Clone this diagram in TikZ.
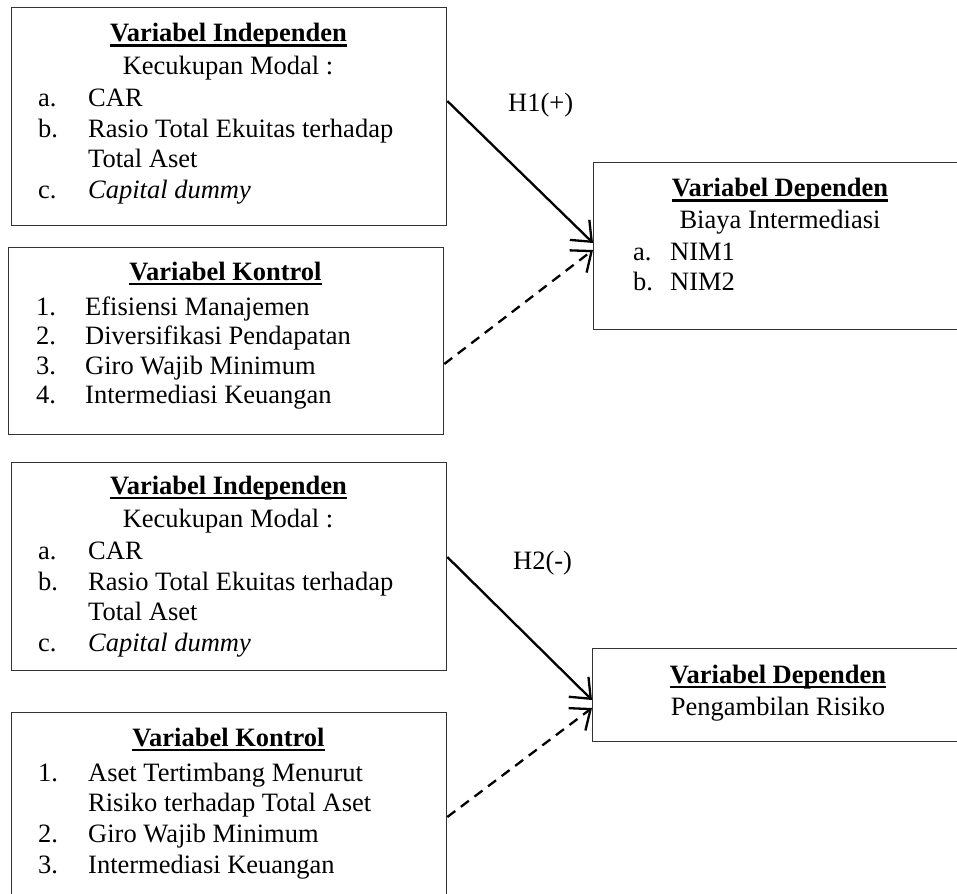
\documentclass[tikz,border=0pt]{standalone}
\usepackage{fontspec}
\setmainfont{Liberation Serif}
\usetikzlibrary{arrows.meta}
\newsavebox\ulbox
\newcommand\myul[1]{\sbox\ulbox{#1}\rlap{\vrule width\wd\ulbox height -2.5pt depth 5pt}\usebox\ulbox}
\tikzset{
  box/.style={draw=black!80, line width=1.3pt, rectangle, anchor=north west, inner sep=0pt},
  txt/.style={inner sep=0pt, font=\fontsize{26.5}{31}\selectfont},
  ttl/.style={txt, anchor=base, font=\fontsize{26.5}{31}\selectfont\bfseries},
  ctr/.style={txt, anchor=base},
  lft/.style={txt, anchor=base west},
  solidarrow/.style={line width=2.3pt, -{Straight Barb[length=17pt,width=28pt,line width=2.3pt]}},
  dasharrow/.style={line width=2.3pt, dash pattern=on 10pt off 7pt, -{Straight Barb[length=17pt,width=28pt,line width=2.3pt]}}
}
\begin{document}
\begin{tikzpicture}[x=1pt,y=-1pt]
\clip (0,0) rectangle (957,893);
\fill[white] (0,0) rectangle (957,893);
% boxes
\node[box, minimum width=435pt, minimum height=218pt] (b1) at (11,7) {};
\node[box, minimum width=435pt, minimum height=187pt] (b2) at (8,247) {};
\node[box, minimum width=374pt, minimum height=167pt] (b3) at (593,162) {};
\node[box, minimum width=435pt, minimum height=208pt] (b4) at (11,462) {};
\node[box, minimum width=435pt, minimum height=208pt] (b5) at (11,712) {};
\node[box, minimum width=373pt, minimum height=93pt] (b6) at (592,648) {};
% box 1
\node[ttl] (t1) at (228.5,42) {\myul{Variabel Independen}};
\node[ctr] (k1) at (228,75) {Kecukupan Modal :};
\node[lft] (a1l) at (38,107) {a.};
\node[lft] (a1) at (88,107) {CAR};
\node[lft] (b1l) at (38,138) {b.};
\node[lft] (b1t) at (88,138) {Rasio Total Ekuitas terhadap};
\node[lft] (b1u) at (88,168) {Total Aset};
\node[lft] (c1l) at (38,199) {c.};
\node[lft] (c1) at (88,199) {\textit{Capital dummy}};
% box 2
\node[ttl] (t2) at (225.5,280) {\myul{Variabel Kontrol}};
\node[lft] (n21) at (36,315) {1.};
\node[lft] (i21) at (85,315) {Efisiensi Manajemen};
\node[lft] (n22) at (36,344) {2.};
\node[lft] (i22) at (85,344) {Diversifikasi Pendapatan};
\node[lft] (n23) at (36,374) {3.};
\node[lft] (i23) at (85,374) {Giro Wajib Minimum};
\node[lft] (n24) at (36,403) {4.};
\node[lft] (i24) at (85,403) {Intermediasi Keuangan};
% box 3
\node[ttl] (t3) at (780,197) {\myul{Variabel Dependen}};
\node[ctr] (k3) at (780,229) {Biaya Intermediasi};
\node[lft] (a3l) at (633,260) {a.};
\node[lft] (a3) at (670,260) {NIM1};
\node[lft] (b3l) at (633,290) {b.};
\node[lft] (b3t) at (670,290) {NIM2};
% box 4
\node[ttl] (t4) at (228.5,494) {\myul{Variabel Independen}};
\node[ctr] (k4) at (228,527) {Kecukupan Modal :};
\node[lft] (a4l) at (38,559) {a.};
\node[lft] (a4) at (88,559) {CAR};
\node[lft] (b4l) at (38,590) {b.};
\node[lft] (b4t) at (88,590) {Rasio Total Ekuitas terhadap};
\node[lft] (b4u) at (88,620) {Total Aset};
\node[lft] (c4l) at (38,651) {c.};
\node[lft] (c4) at (88,651) {\textit{Capital dummy}};
% box 5
\node[ttl] (t5) at (228.5,746) {\myul{Variabel Kontrol}};
\node[lft] (n51) at (38,781) {1.};
\node[lft] (i51) at (88,781) {Aset Tertimbang Menurut};
\node[lft] (i51b) at (88,811) {Risiko terhadap Total Aset};
\node[lft] (n52) at (38,842) {2.};
\node[lft] (i52) at (88,842) {Giro Wajib Minimum};
\node[lft] (n53) at (38,873) {3.};
\node[lft] (i53) at (88,873) {Intermediasi Keuangan};
% box 6
\node[ttl] (t6) at (778,683) {\myul{Variabel Dependen}};
\node[ctr] (k6) at (778,715) {Pengambilan Risiko};
% labels
\node[lft] (h1) at (508,112) {H1(+)};
\node[lft] (h2) at (513,569) {H2(-)};
% arrows
\draw[solidarrow] ([yshift=-94pt]b1.north east) -- ([yshift=-81pt]b3.north west);
\draw[dasharrow] ([yshift=-117pt]b2.north east) -- ([yshift=-88pt]b3.north west);
\draw[solidarrow] ([yshift=-95pt]b4.north east) -- ([yshift=-52pt]b6.north west);
\draw[dasharrow] ([yshift=-105pt]b5.north east) -- ([yshift=-60pt]b6.north west);
\end{tikzpicture}
\end{document}
